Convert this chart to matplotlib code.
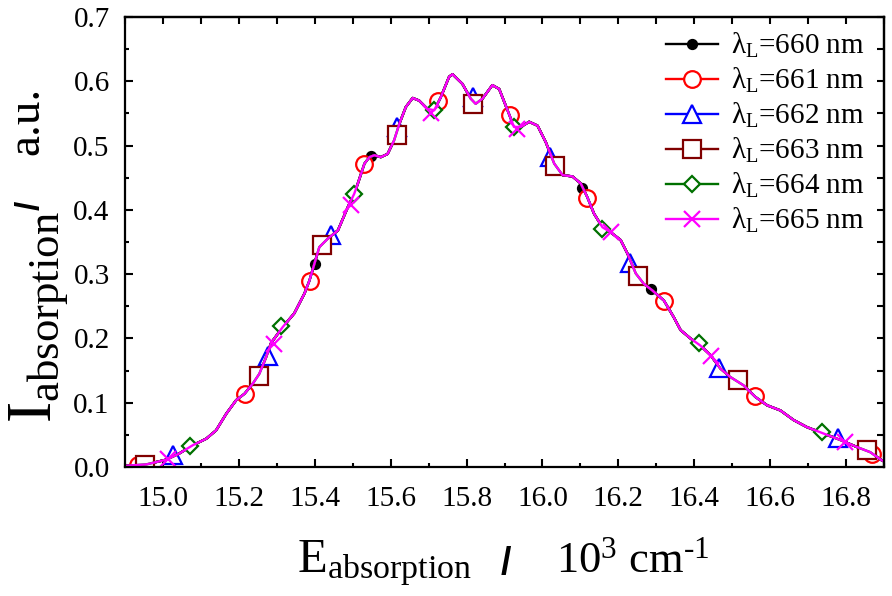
import matplotlib
matplotlib.use("Agg")
import matplotlib.pyplot as plt
from matplotlib.lines import Line2D
from matplotlib.ticker import MultipleLocator, FormatStrFormatter

plt.rcParams['font.family'] = ['Liberation Serif', 'DejaVu Serif']
plt.rcParams['mathtext.fontset'] = 'custom'
plt.rcParams['mathtext.rm'] = 'Liberation Serif'
plt.rcParams['mathtext.it'] = 'Liberation Serif:italic'
plt.rcParams['mathtext.bf'] = 'Liberation Serif:bold'

# ---- shared absorption curve ----
curve_x = [14.903, 14.956, 15.009, 15.040, 15.079, 15.114, 15.140, 15.167, 15.193, 15.215,
           15.237, 15.254, 15.272, 15.285, 15.316, 15.346, 15.373, 15.386, 15.399, 15.412,
           15.434, 15.461, 15.487, 15.504, 15.513, 15.531, 15.544, 15.557, 15.574, 15.592,
           15.609, 15.623, 15.640, 15.658, 15.675, 15.697, 15.715, 15.732, 15.754, 15.763,
           15.789, 15.811, 15.824, 15.842, 15.868, 15.886, 15.908, 15.925, 15.943, 15.965,
           15.987, 16.009, 16.031, 16.053, 16.079, 16.101, 16.118, 16.136, 16.158, 16.180,
           16.206, 16.224, 16.246, 16.267, 16.289, 16.320, 16.346, 16.364, 16.390, 16.416,
           16.443, 16.469, 16.495, 16.530, 16.561, 16.592, 16.627, 16.662, 16.697, 16.741,
           16.785, 16.829, 16.864, 16.895]
curve_y = [0.002, 0.004, 0.0115, 0.020, 0.034, 0.044, 0.057, 0.083, 0.104, 0.114,
           0.130, 0.145, 0.171, 0.193, 0.218, 0.239, 0.270, 0.290, 0.316, 0.342,
           0.355, 0.368, 0.404, 0.425, 0.440, 0.472, 0.482, 0.485, 0.482, 0.487,
           0.508, 0.534, 0.560, 0.574, 0.570, 0.557, 0.555, 0.575, 0.607, 0.611,
           0.596, 0.573, 0.565, 0.573, 0.594, 0.588, 0.555, 0.529, 0.529, 0.537,
           0.531, 0.505, 0.472, 0.454, 0.452, 0.441, 0.420, 0.394, 0.373, 0.365,
           0.353, 0.332, 0.301, 0.285, 0.275, 0.259, 0.233, 0.213, 0.200, 0.189,
           0.174, 0.153, 0.140, 0.127, 0.109, 0.096, 0.088, 0.073, 0.062, 0.052,
           0.042, 0.031, 0.023, 0.010]

# ---- marker points of each laser wavelength ----
labels = ['660', '661', '662', '663', '664', '665']
x660 = [15.401, 15.548, 16.105, 16.287]
y660 = [0.316, 0.484, 0.434, 0.277]
x661 = [14.934, 15.215, 15.388, 15.530, 15.725, 15.914, 16.117, 16.320, 16.559, 16.868]
y661 = [0.003, 0.114, 0.290, 0.472, 0.569, 0.547, 0.418, 0.259, 0.111, 0.021]
x662 = [15.026, 15.276, 15.443, 15.618, 15.816, 16.021, 16.232, 16.465, 16.780]
y662 = [0.019, 0.172, 0.361, 0.529, 0.576, 0.483, 0.317, 0.154, 0.045]
x663 = [14.953, 15.254, 15.418, 15.616, 15.816, 16.032, 16.252, 16.516, 16.855]
y663 = [0.003, 0.141, 0.345, 0.517, 0.565, 0.469, 0.297, 0.135, 0.026]
x664 = [15.070, 15.311, 15.504, 15.715, 15.925, 16.158, 16.412, 16.737]
y664 = [0.032, 0.219, 0.424, 0.555, 0.529, 0.371, 0.193, 0.054]
x665 = [15.013, 15.292, 15.496, 15.706, 15.934, 16.180, 16.443, 16.798]
y665 = [0.013, 0.192, 0.407, 0.550, 0.526, 0.365, 0.172, 0.039]

series_x = [x660, x661, x662, x663, x664, x665]
series_y = [y660, y661, y662, y663, y664, y665]
colors = ['black', '#ff0000', '#0000ff', '#800000', '#007000', '#ff00ff']
markers = ['o', 'o', '^', 's', 'D', 'x']
msizes = [6.5, 12, 12.5, 12.5, 8.5, 12]
faces = ['black', 'white', 'white', 'white', 'white', 'none']

W, H = 892, 596
fig = plt.figure(figsize=(W / 100, H / 100), dpi=100)
ax = fig.add_axes([125 / W, 1 - 467 / H, (884 - 125) / W, (467 - 17) / H])

handles = []
for sx, sy, c, m, ms, fc, lab in zip(series_x, series_y, colors, markers, msizes, faces, labels):
    ax.plot(curve_x, curve_y, color=c, lw=1.7, zorder=2, solid_joinstyle='round')
    ax.plot(sx, sy, ls='none', marker=m, ms=ms, mfc=fc, mec=c, mew=1.6, zorder=2)
    handles.append(Line2D([], [], color=c, lw=1.7, marker=m, ms=ms, mfc=fc, mec=c, mew=1.6,
                          label=r'$\mathrm{\lambda}_{\mathrm{L}}$=' + lab + ' nm'))

ax.set_xlim(14.9, 16.9)
ax.set_ylim(0.0, 0.7)
ax.xaxis.set_major_locator(MultipleLocator(0.2))
ax.xaxis.set_minor_locator(MultipleLocator(0.1))
ax.yaxis.set_major_locator(MultipleLocator(0.1))
ax.yaxis.set_minor_locator(MultipleLocator(0.05))
ax.xaxis.set_major_formatter(FormatStrFormatter('%.1f'))
ax.yaxis.set_major_formatter(FormatStrFormatter('%.1f'))
ax.tick_params(which='both', direction='in', top=False, right=False, width=1.5)
ax.tick_params(which='major', length=6)
ax.tick_params(which='minor', length=3)
ax.tick_params(axis='x', which='major', labelsize=21, pad=14)
ax.tick_params(axis='y', which='major', labelsize=21, pad=11)
for sp in ax.spines.values():
    sp.set_linewidth(1.6)

sx_top = ax.secondary_xaxis('top')
sx_top.xaxis.set_major_locator(MultipleLocator(0.1))
sx_top.tick_params(direction='in', length=5, width=1.5, labeltop=False)
sx_top.spines['top'].set_linewidth(1.6)
sy_r = ax.secondary_yaxis('right')
sy_r.yaxis.set_major_locator(MultipleLocator(0.05))
sy_r.tick_params(direction='in', length=5, width=1.5, labelright=False)
sy_r.spines['right'].set_linewidth(1.6)

leg = ax.legend(handles=handles, loc='upper right', frameon=False, fontsize=21,
                handlelength=1.8, handletextpad=0.45, labelspacing=0.2,
                borderaxespad=0.0, bbox_to_anchor=(0.99, 0.995))

# ---- axis labels (composed pieces) ----
def fx(px):
    return px / W

def fy(py):
    return 1 - py / H

fig.text(fx(297), fy(572.7), r'$\mathrm{E}_{\mathrm{absorption}}$', fontsize=35,
         ha='left', va='baseline')
fig.text(fx(501), fy(574), '/', fontsize=27, family='Liberation Sans', weight='bold',
         ha='left', va='baseline')
fig.text(fx(556), fy(572), r'10$^{\mathrm{3}}$ cm$^{\text{-1}}$', fontsize=32,
         ha='left', va='baseline')

fig.text(fx(50), fy(423), r'$\mathrm{I}_{\mathrm{absorption}}$', fontsize=46,
         ha='left', va='baseline', rotation=90, rotation_mode='anchor')
fig.text(fx(39), fy(210), '/', fontsize=24, family='Liberation Sans', weight='bold',
         ha='left', va='baseline', rotation=90, rotation_mode='anchor')
fig.text(fx(38), fy(155), 'a.u.', fontsize=34,
         ha='left', va='baseline', rotation=90, rotation_mode='anchor')

fig.savefig('out.png', dpi=100)
